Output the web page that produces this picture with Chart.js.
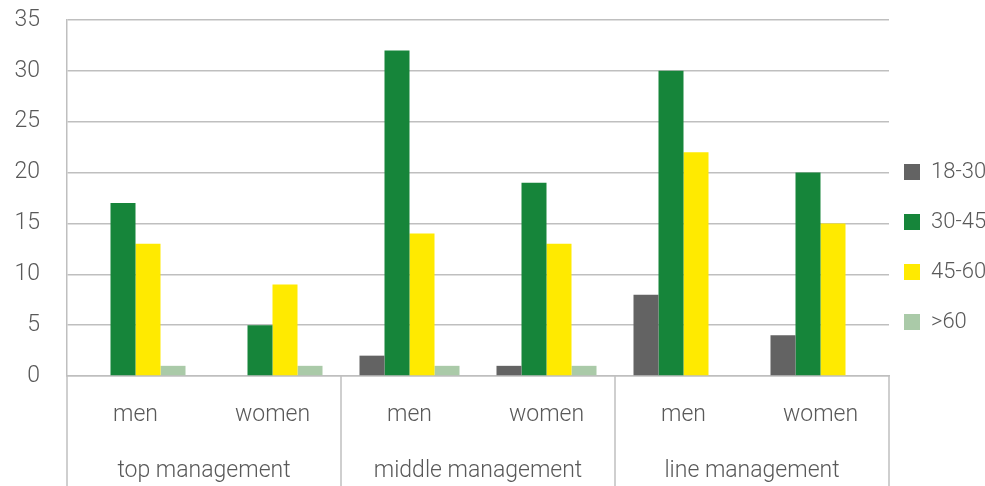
<!DOCTYPE html>
<html>
<head>
  <title>Management by age</title>
  <script src="https://cdn.jsdelivr.net/npm/chart.js"></script>
  <style>
    body { margin: 0; background: #fff; }
    #wrap { width: 985px; height: 486px; }
  </style>
</head>
<body>
  <div id="wrap"><canvas id="ageChart"></canvas></div>

  <script>
    const categories = ['men', 'women', 'men', 'women', 'men', 'women'];
    const groups = ['top management', 'middle management', 'line management'];
    const age18to30 = [0, 0, 2, 1, 8, 4];
    const age30to45 = [17, 5, 32, 19, 30, 20];
    const age45to60 = [13, 9, 14, 13, 22, 15];
    const age60plus = [1, 1, 1, 1, 0, 0];
    const yTicks = [0, 5, 10, 15, 20, 25, 30, 35];

    const textColor = '#595959';
    const lineColor = '#bfbfbf';
    const font = { family: 'Roboto', size: 23, weight: 300 };

    // vertical lines between the groups, from the x axis down to the bottom
    const groupLines = {
      id: 'groupLines',
      afterLayout(chart) {
        // pull the legend closer to the plot
        chart.legend.left = chart.chartArea.right - 13;
        chart.legend.top -= 6;
        chart.legend.bottom -= 6;
      },
      afterDraw(chart) {
        const x = chart.scales.x;
        const ctx = chart.ctx;
        const step = (x.right - x.left) / categories.length;
        ctx.save();
        ctx.strokeStyle = lineColor;
        ctx.lineWidth = 1.5;
        for (let i = 0; i <= categories.length; i += 2) {
          const px = x.left + i * step;
          ctx.beginPath();
          ctx.moveTo(px, chart.chartArea.bottom);
          ctx.lineTo(px, chart.height);
          ctx.stroke();
        }
        ctx.restore();
      }
    };

    new Chart(document.getElementById('ageChart'), {
      type: 'bar',
      data: {
        labels: categories,
        datasets: [
          { label: '18-30', data: age18to30, backgroundColor: '#636363' },
          { label: '30-45', data: age30to45, backgroundColor: '#16853a' },
          { label: '45-60', data: age45to60, backgroundColor: '#ffea00' },
          { label: '>60', data: age60plus, backgroundColor: '#aacaa8' }
        ]
      },
      options: {
        responsive: true,
        maintainAspectRatio: false,
        animation: false,
        barPercentage: 1,
        categoryPercentage: 0.73,
        layout: { padding: { top: 20, left: 12, bottom: 0, right: -17 } },
        scales: {
          y: {
            min: 0,
            max: 35,
            afterBuildTicks: s => { s.ticks = yTicks.map(v => ({ value: v })); },
            afterFit: s => { s.width = 55; s.paddingTop = 0; s.paddingBottom = 0; },
            grid: { color: lineColor, lineWidth: 1.5, drawTicks: false },
            border: { color: lineColor, width: 1.5 },
            ticks: { color: textColor, font: font, padding: 27 }
          },
          x: {
            afterFit: s => { s.height = 55; },
            grid: { display: false },
            border: { color: lineColor, width: 1.5 },
            ticks: { color: textColor, font: font, padding: 17 }
          },
          group: {
            type: 'category',
            labels: groups,
            position: 'bottom',
            afterFit: s => { s.height = 55; },
            grid: { display: false },
            border: { display: false },
            ticks: { color: textColor, font: font, padding: 18 }
          }
        },
        plugins: {
          legend: {
            position: 'right',
            maxWidth: 113,
            labels: {
              color: textColor,
              font: { family: 'Roboto', size: 22, weight: 300 },
              boxWidth: 16,
              boxHeight: 16,
              padding: 28
            }
          },
          tooltip: { enabled: false }
        }
      },
      plugins: [groupLines]
    });
  </script>
</body>
</html>
